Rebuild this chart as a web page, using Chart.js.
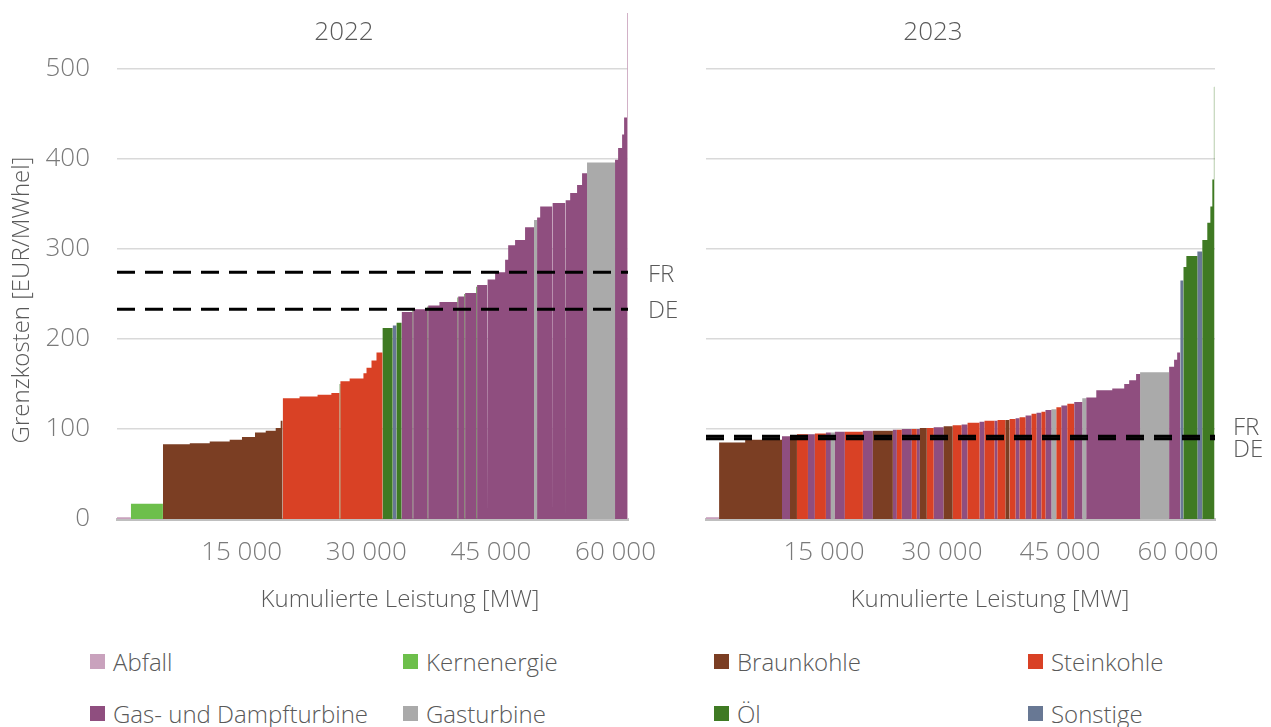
<!DOCTYPE html>
<html>
<head>
<meta charset="utf-8">
<script src="https://cdn.jsdelivr.net/npm/chart.js@4.4.0/dist/chart.umd.min.js"></script>
<style>
  body { margin: 0; background: #fff; font-family: "Open Sans", sans-serif; }
  #wrap { position: relative; width: 1271px; height: 727px; overflow: hidden; }
  #c2022 { position: absolute; left: 0; top: 0; }
  #c2023 { position: absolute; left: 690px; top: 0; }
  #legend { position: absolute; left: 90px; top: 635px; display: grid;
            grid-template-columns: 313px 311px 314px 230px; grid-auto-rows: 52px; }
  .item { display: flex; align-items: center; font-size: 24px; font-weight: 300; color: #595959; white-space: nowrap; }
  .sw { width: 15px; height: 15px; margin-right: 8px; flex: none; }
</style>
</head>
<body>
<div id="wrap">
  <canvas id="c2022" width="690" height="630"></canvas>
  <canvas id="c2023" width="581" height="630"></canvas>
  <div id="legend"></div>
</div>
<script>
// Technologies (legend order) and their colours
const techCodes = ['AB', 'KE', 'BK', 'SK', 'GD', 'GT', 'OL', 'SO'];
const techNames = ['Abfall', 'Kernenergie', 'Braunkohle', 'Steinkohle', 'Gas- und Dampfturbine', 'Gasturbine', 'Öl', 'Sonstige'];
const techColors = ['#c9a2bd', '#6dbf4b', '#7b3e23', '#d94125', '#8f4e7f', '#aaaaaa', '#3f7a23', '#687894'];

// Axis ticks
const xTicks = [15000, 30000, 45000, 60000];
const yTicks = [0, 100, 200, 300, 400, 500];
const yMax = 562;

// 2022 merit order: block capacity [MW], marginal cost [EUR/MWhel], technology
const cap2022 = [1660, 3870, 3230, 2400, 2400, 1480, 1570, 1290, 1200, 600, 240,
  2030, 2170, 1660, 970, 120, 1110, 1660, 370, 600, 600, 740,
  1200, 480, 600,
  1320, 90, 1710, 90, 1350, 2170, 90, 740, 90, 1350, 90, 1200, 90, 880, 1200, 370, 830, 1200, 1080,
  370, 370, 1440, 90, 1480, 90, 510, 830, 600, 600,
  3370, 370, 480, 240, 370, 140];
const cost2022 = [2, 17, 83, 84, 86, 88, 91, 96, 98, 101, 109,
  134, 136, 138, 140, 150, 153, 156, 162, 168, 176, 185,
  212, 215, 218,
  230, 232, 233, 236, 237, 241, 246, 247, 250, 251, 258, 260, 265, 266, 274, 288, 304, 310, 324,
  332, 335, 347, 349, 351, 353, 354, 362, 371, 384,
  396, 399, 412, 427, 446, 562];
const tech2022 = ['AB', 'KE', 'BK', 'BK', 'BK', 'BK', 'BK', 'BK', 'BK', 'BK', 'BK',
  'SK', 'SK', 'SK', 'SK', 'OL', 'SK', 'SK', 'SK', 'SK', 'SK', 'SK',
  'OL', 'SO', 'OL',
  'GD', 'OL', 'GD', 'OL', 'GD', 'GD', 'OL', 'GD', 'OL', 'GD', 'OL', 'GD', 'OL', 'GD', 'GD', 'GD', 'GD', 'GD', 'GD',
  'GT', 'GD', 'GD', 'OL', 'GD', 'OL', 'GD', 'GD', 'GD', 'GD',
  'GT', 'GD', 'GD', 'GD', 'GD', 'AB'];

// 2023 merit order
const cap2023 = [1660, 3320, 4680, 1020, 880, 1400, 880, 1400, 630, 510, 1270, 2290, 1270, 2540,
  510, 630, 1270, 630, 390, 880, 880, 1270, 1140, 1140, 760, 1520, 630, 1270, 390, 1020,
  510, 760, 510, 760, 760, 630, 630, 510, 760, 630, 630, 760, 880, 1020, 510, 1270,
  2030, 1520, 630, 880, 510, 3690, 630, 390, 390,
  390, 390, 1400, 630, 630, 390, 250, 200, 80];
const cost2023 = [2, 85, 88, 92, 92, 94, 94, 95, 96, 96, 97, 97, 98, 98,
  99, 99, 100, 100, 100, 101, 101, 102, 103, 104, 105, 107, 108, 109, 109, 110,
  110, 111, 112, 113, 115, 117, 118, 119, 121, 122, 124, 126, 128, 130, 134, 135,
  143, 145, 150, 154, 161, 163, 169, 177, 185,
  265, 280, 292, 297, 310, 329, 347, 377, 480];
const tech2023 = ['AB', 'BK', 'BK', 'GD', 'BK', 'SK', 'GD', 'SK', 'GD', 'GT', 'GD', 'SK', 'GD', 'BK',
  'GD', 'SK', 'GD', 'SK', 'GD', 'BK', 'SK', 'GD', 'BK', 'SK', 'GD', 'SK', 'GD', 'SK', 'GD', 'SK',
  'BK', 'SK', 'GD', 'SK', 'GD', 'SK', 'GD', 'SK', 'GD', 'GT', 'SK', 'GD', 'SK', 'GD', 'GT', 'GD',
  'GD', 'GD', 'GD', 'GD', 'GD', 'GT', 'GD', 'GD', 'GD',
  'SO', 'OL', 'OL', 'SO', 'OL', 'OL', 'OL', 'OL', 'OL'];

// Reference prices (dashed lines)
const priceFR2022 = 274, priceDE2022 = 233;
const priceFR2023 = 92, priceDE2023 = 89;

const TXT = '#595959';
const FONT = '"Open Sans", sans-serif';

// one filled step area per technology
function stepDatasets(cap, cost, tech) {
  const pts = techCodes.map(() => []);
  let x = 0;
  cap.forEach((w, i) => {
    const p = pts[techCodes.indexOf(tech[i])];
    p.push({ x: x, y: 0 }, { x: x, y: cost[i] }, { x: x + w, y: cost[i] }, { x: x + w, y: 0 });
    x += w;
  });
  return techNames.map((name, k) => ({
    type: 'line', label: name, data: pts[k], fill: 'origin',
    backgroundColor: techColors[k], borderColor: 'transparent', borderWidth: 0,
    pointRadius: 0, tension: 0, order: 10
  }));
}

function dashLine(label, price, xEnd) {
  return {
    type: 'line', label: label, data: [{ x: 0, y: price }, { x: xEnd, y: price }],
    borderColor: '#000', borderWidth: 3, borderDash: [18, 10], fill: false,
    pointRadius: 0, order: 0
  };
}

// free text: titles, axis titles and FR/DE labels
const textPlugin = {
  id: 'texts',
  afterDraw(chart, args, opts) {
    const ctx = chart.ctx;
    ctx.save();
    ctx.fillStyle = TXT;
    ctx.textBaseline = 'middle';
    (opts.items || []).forEach(t => {
      ctx.save();
      ctx.font = '300 ' + t.size + 'px ' + FONT;
      ctx.textAlign = 'center';
      ctx.translate(t.x, t.y);
      if (t.rot) ctx.rotate(t.rot);
      ctx.fillText(t.text, 0, 0);
      ctx.restore();
    });
    const y = chart.scales.y, area = chart.chartArea;
    ctx.font = '300 24px ' + FONT;
    ctx.textAlign = 'left';
    (opts.marks || []).forEach(m => {
      ctx.fillText(m.text, area.right + m.dx, y.getPixelForValue(m.value) + m.dy);
    });
    ctx.restore();
  }
};

function fmt(v) {
  return String(v).replace(/\B(?=(\d{3})+(?!\d))/g, ' ');
}

function makeChart(id, cap, cost, tech, xMax, fr, de, opt) {
  const datasets = [dashLine('FR', fr, xMax), dashLine('DE', de, xMax)].concat(stepDatasets(cap, cost, tech));
  return new Chart(document.getElementById(id), {
    type: 'line',
    data: { datasets: datasets },
    plugins: [textPlugin],
    options: {
      responsive: false,
      animation: false,
      events: [],
      layout: { padding: { top: 13, right: opt.padRight, left: 0, bottom: 0 } },
      plugins: {
        legend: { display: false },
        tooltip: { enabled: false },
        texts: { items: opt.items, marks: opt.marks }
      },
      scales: {
        x: {
          type: 'linear', min: 0, max: xMax,
          afterBuildTicks: s => { s.ticks = xTicks.map(v => ({ value: v })); },
          afterFit: s => { s.height = 111; s.paddingLeft = 0; s.paddingRight = 0; },
          grid: { display: false, drawTicks: false },
          border: { display: true, color: '#bfbfbf', width: 3 },
          ticks: { autoSkip: false, maxRotation: 0, padding: 18, color: '#7a7a7a',
                   font: { family: FONT, size: 26, weight: 300 }, callback: v => fmt(v) }
        },
        y: {
          type: 'linear', min: 0, max: yMax,
          afterBuildTicks: s => { s.ticks = yTicks.map(v => ({ value: v })); },
          afterFit: s => { s.width = opt.yWidth; s.paddingTop = 0; s.paddingBottom = 0; },
          grid: { color: '#d9d9d9', lineWidth: 1.5, drawTicks: false },
          border: { display: false },
          ticks: { display: opt.yLabels, padding: 27, color: '#7a7a7a',
                   font: { family: FONT, size: 26, weight: 300 } }
        }
      }
    }
  });
}

makeChart('c2022', cap2022, cost2022, tech2022, 61500, priceFR2022, priceDE2022, {
  padRight: 62, yWidth: 117, yLabels: true,
  items: [
    { text: '2022', x: 344, y: 33, size: 26 },
    { text: 'Kumulierte Leistung [MW]', x: 400, y: 600, size: 24 },
    { text: 'Grenzkosten [EUR/MWhel]', x: 22, y: 300, size: 24, rot: -Math.PI / 2 }
  ],
  marks: [{ text: 'FR', value: priceFR2022, dx: 20, dy: 3 }, { text: 'DE', value: priceDE2022, dx: 20, dy: 2 }]
});

makeChart('c2023', cap2023, cost2023, tech2023, 64700, priceFR2023, priceDE2023, {
  padRight: 56, yWidth: 16, yLabels: false,
  items: [
    { text: '2023', x: 243, y: 33, size: 26 },
    { text: 'Kumulierte Leistung [MW]', x: 300, y: 600, size: 24 }
  ],
  marks: [{ text: 'FR', value: priceFR2023, dx: 18, dy: -8 }, { text: 'DE', value: priceDE2023, dx: 18, dy: 11 }]
});

// legend
const legend = document.getElementById('legend');
techNames.forEach((name, k) => {
  legend.innerHTML += '<div class="item"><span class="sw" style="background:' + techColors[k] + '"></span>' + name + '</div>';
});
</script>
</body>
</html>
